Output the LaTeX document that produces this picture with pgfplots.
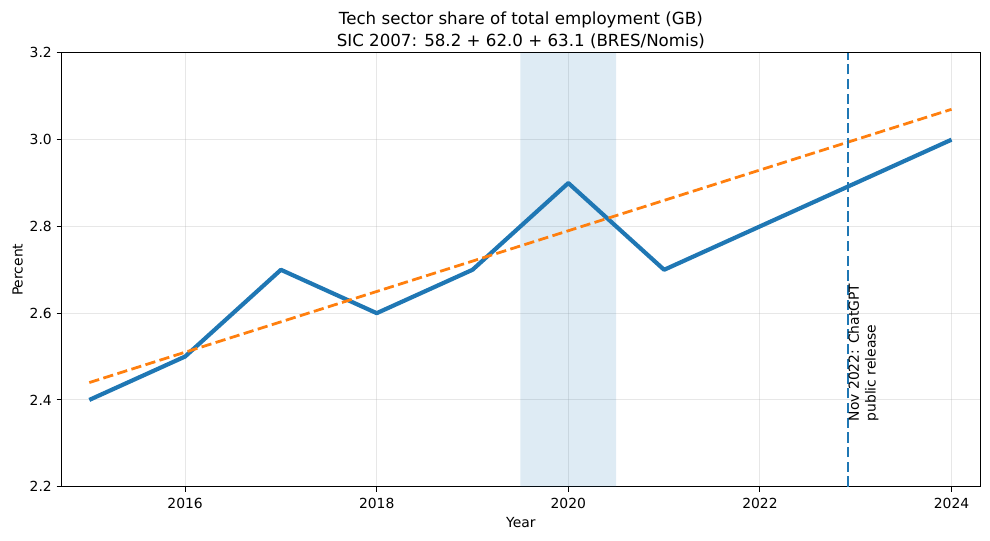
\documentclass[border=0pt]{standalone}
\usepackage{fontspec}
\setmainfont{DejaVu Sans}
\usepackage{pgfplots}
\pgfplotsset{compat=1.18}
\definecolor{cblue}{HTML}{1F77B4}
\definecolor{corange}{HTML}{FF7F0E}
\definecolor{gridc}{HTML}{B0B0B0}
\begin{document}
\begin{tikzpicture}
\begin{axis}[
  scale only axis,
  width=661.5pt, height=312.3pt,
  xmin=2014.71, xmax=2024.3,
  ymin=2.2, ymax=3.2,
  xtick={2016,2018,2020,2022,2024},
  ytick={2.2,2.4,2.6,2.8,3.0,3.2},
  font=\fontsize{10}{12}\selectfont,
  /pgf/number format/assume math mode=true,
  x tick label style={yshift=-1pt, /pgf/number format/.cd, set thousands separator={}},
  y tick label style={/pgf/number format/.cd, fixed, fixed zerofill, precision=1},
  tick align=outside, tick pos=left,
  major tick length=3.5pt,
  every tick/.style={black, line width=0.8pt},
  axis line style={line width=0.8pt},
  grid=major,
  grid style={gridc, opacity=0.3, line width=0.8pt},
  xlabel={Year}, ylabel={Percent},
  xlabel style={yshift=0pt},
  ylabel style={yshift=-2pt},
  title={Tech sector share of total employment (GB)\\SIC 2007: 58.2 + 62.0 + 63.1 (BRES/Nomis)},
  title style={align=center, font=\fontsize{12}{15.8}\selectfont, yshift=-6.5pt},
]
\addplot[fill=cblue, fill opacity=0.15, draw=none] coordinates {
(2019.5,2.2) (2020.5,2.2) (2020.5,3.2) (2019.5,3.2)} \closedcycle;
\addplot[cblue, line width=3pt, line join=round] coordinates {
(2015,2.4) (2016,2.5) (2017,2.7) (2018,2.6) (2019,2.7)
(2020,2.9) (2021,2.7) (2022,2.8) (2023,2.9) (2024,3.0)
};
\addplot[corange, line width=2pt, dash pattern=on 7.4pt off 3.2pt] coordinates {
(2015,2.44) (2024,3.07)
};
\addplot[cblue, line width=2pt, dash pattern=on 7.4pt off 3.2pt] coordinates {
(2022.92,2.2) (2022.92,3.2)
};
\node[rotate=90, anchor=north west, align=left, inner sep=0pt,
  font=\fontsize{10}{12}\selectfont] at (axis cs:2022.92,2.35)
  {Nov 2022: ChatGPT\\public release};
\end{axis}
\path[use as bounding box] ([shift={(-44.3pt,-38.4pt)}]current axis.south west)
  rectangle ([shift={(668.5pt,350.4pt)}]current axis.south west);
\end{tikzpicture}
\end{document}
